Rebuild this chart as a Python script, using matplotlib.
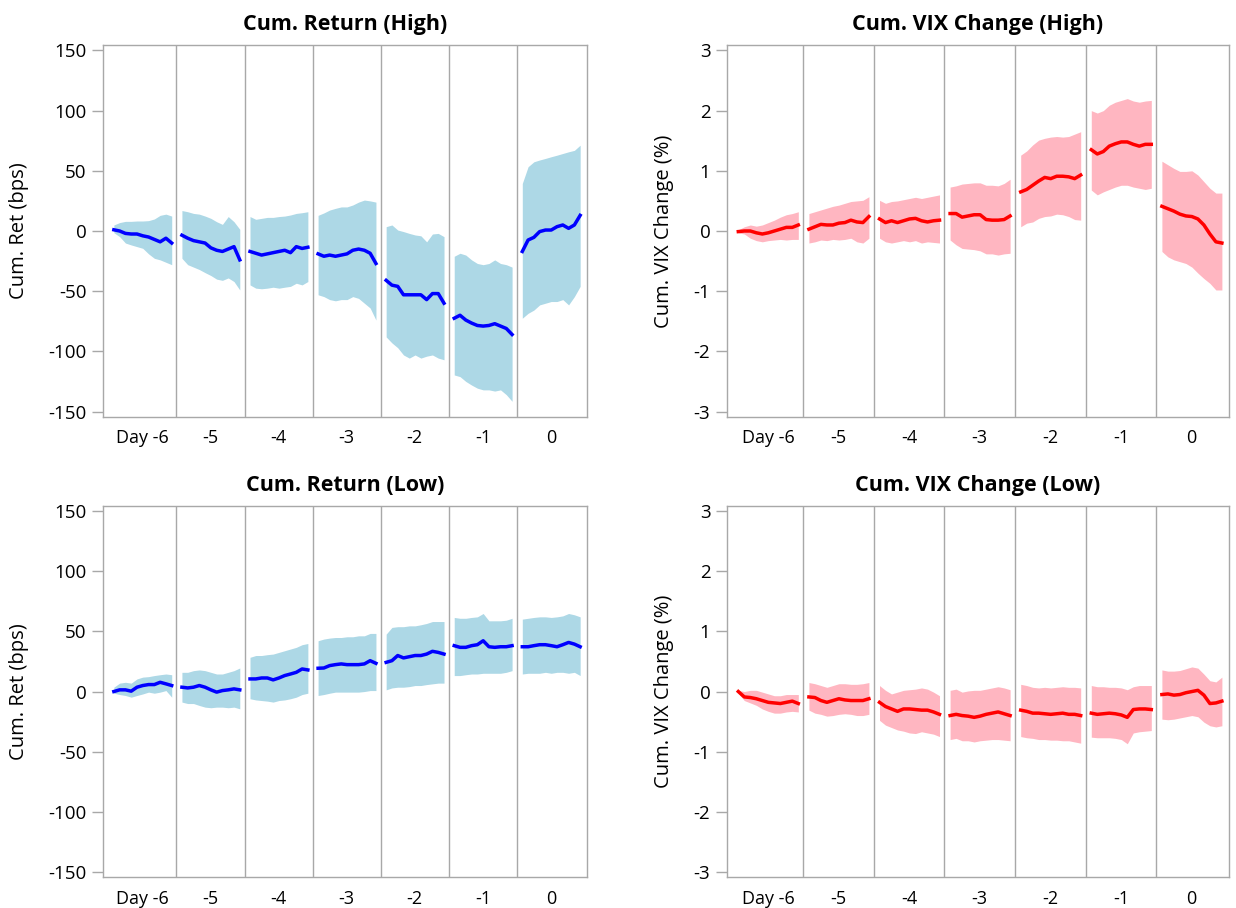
import matplotlib.pyplot as plt
import numpy as np

plt.rcParams['font.family'] = ['Open Sans', 'DejaVu Sans']

days = ['Day -6', '-5', '-4', '-3', '-2', '-1', '0']
# where the readings sit inside each day column
intraday = [0.08, 0.165, 0.25, 0.335, 0.42, 0.505, 0.59, 0.675, 0.76, 0.845, 0.93]

# ---- Cum. Return (High), bps ----
ret_high_mean = [
    [1, 0, -2, -2.5, -2.5, -4, -5, -7, -9, -6, -10],
    [-3.5, -6, -8, -9, -10, -14, -16, -17, -15, -13, -24],
    [-17, -18.5, -20, -19, -18, -17, -16, -18, -13, -14.5, -13.5],
    [-19, -21, -20, -21, -20, -19, -16, -15, -16, -18.5, -27],
    [-41, -45, -46, -53, -53, -53, -53, -57, -52, -52, -60],
    [-72.5, -70, -74, -76.5, -78.5, -79, -78.5, -77, -79, -81, -86],
    [-17, -7.5, -5.3, -0.5, 0.8, 0.8, 3.6, 5, 2.2, 5, 13],
]
ret_high_upper = [
    [5, 7, 8, 8, 8.3, 8.3, 8.6, 10, 13, 14, 12.4],
    [17, 16, 14.6, 14, 12.4, 10.5, 7.7, 5.5, 12, 7.7, 1.4],
    [12, 9.7, 10.5, 11.3, 11.3, 12, 12.4, 13.3, 14.6, 15.2, 16],
    [13, 15, 17.4, 18.8, 20, 20, 21.6, 24, 25.7, 25, 24],
    [3.6, 5, 0.8, -0.5, -2, -3.3, -4, -9, -2.5, -2, -4.7],
    [-21, -18.5, -20, -24, -27, -28, -27, -24, -27, -28, -30],
    [39.5, 53.4, 57.5, 59, 60.3, 61.7, 63, 64.4, 65.8, 67, 71.3],
]
ret_high_lower = [
    [-1.4, -4.7, -10, -11.6, -13, -14.4, -19, -22.7, -24, -26, -28],
    [-22.7, -28, -30, -32, -34.6, -37, -40, -41, -39, -42, -49],
    [-44.8, -47.5, -48, -47.5, -46.7, -47.5, -46.7, -46, -43.4, -44.8, -42],
    [-53, -54.5, -57, -58, -57, -57, -54.5, -56, -60, -64, -74],
    [-88, -93, -97, -103, -105.6, -103, -105.6, -104, -103, -105.6, -107],
    [-119.6, -121, -125, -128, -130.6, -132, -132, -133, -132, -136, -141.5],
    [-72.5, -68.4, -65.7, -61.4, -60, -58.6, -58.6, -57, -61.4, -54.5, -46],
]

# ---- Cum. VIX Change (High), % ----
vix_high_mean = [
    [-0.01, 0.0, 0.0, -0.03, -0.05, -0.03, 0.0, 0.03, 0.06, 0.06, 0.1],
    [0.03, 0.07, 0.11, 0.1, 0.1, 0.13, 0.14, 0.18, 0.15, 0.14, 0.24],
    [0.2, 0.14, 0.17, 0.14, 0.17, 0.2, 0.21, 0.17, 0.15, 0.17, 0.18],
    [0.29, 0.29, 0.23, 0.25, 0.27, 0.27, 0.19, 0.18, 0.18, 0.19, 0.25],
    [0.65, 0.69, 0.76, 0.83, 0.89, 0.87, 0.91, 0.91, 0.9, 0.87, 0.93],
    [1.35, 1.28, 1.32, 1.41, 1.45, 1.48, 1.48, 1.44, 1.41, 1.44, 1.44],
    [0.41, 0.37, 0.33, 0.28, 0.25, 0.24, 0.2, 0.1, -0.05, -0.18, -0.2],
]
vix_high_upper = [
    [0.02, 0.07, 0.1, 0.08, 0.1, 0.14, 0.18, 0.23, 0.27, 0.29, 0.32],
    [0.29, 0.32, 0.35, 0.38, 0.41, 0.43, 0.46, 0.49, 0.5, 0.51, 0.57],
    [0.51, 0.46, 0.49, 0.5, 0.52, 0.54, 0.56, 0.54, 0.56, 0.58, 0.6],
    [0.73, 0.75, 0.78, 0.79, 0.8, 0.8, 0.76, 0.76, 0.75, 0.79, 0.86],
    [1.26, 1.33, 1.43, 1.51, 1.54, 1.56, 1.57, 1.56, 1.57, 1.61, 1.65],
    [2.0, 1.96, 2.0, 2.09, 2.14, 2.17, 2.2, 2.16, 2.14, 2.16, 2.17],
    [1.16, 1.1, 1.04, 0.99, 0.99, 1.0, 0.93, 0.82, 0.71, 0.63, 0.63],
]
vix_high_lower = [
    [-0.03, -0.05, -0.12, -0.16, -0.18, -0.16, -0.15, -0.14, -0.15, -0.14, -0.14],
    [-0.2, -0.18, -0.15, -0.16, -0.14, -0.15, -0.14, -0.12, -0.18, -0.2, -0.12],
    [-0.12, -0.18, -0.2, -0.18, -0.16, -0.18, -0.16, -0.2, -0.18, -0.19, -0.2],
    [-0.15, -0.23, -0.29, -0.3, -0.31, -0.33, -0.38, -0.38, -0.4, -0.38, -0.37],
    [0.07, 0.13, 0.15, 0.21, 0.24, 0.25, 0.28, 0.27, 0.24, 0.19, 0.18],
    [0.68, 0.6, 0.65, 0.69, 0.73, 0.76, 0.76, 0.73, 0.71, 0.69, 0.71],
    [-0.34, -0.43, -0.48, -0.51, -0.54, -0.6, -0.7, -0.79, -0.87, -0.98, -0.98],
]

# ---- Cum. Return (Low), bps ----
ret_low_mean = [
    [0, 1.4, 1.4, 0.3, 3.6, 5, 5.8, 5.8, 7.7, 6.4, 5],
    [3.6, 3, 3.6, 5, 3.6, 1.4, -0.5, 0.8, 1.4, 2.2, 1.4],
    [10.5, 10.5, 11.3, 11.3, 9.7, 11.3, 13.3, 14.6, 16, 18.8, 18],
    [19.4, 19.6, 21.6, 22.4, 23, 22.4, 22.4, 22.4, 23, 25.7, 23.5],
    [24.3, 25.7, 30, 28, 29, 30, 30, 31.2, 33.5, 32.6, 31.2],
    [38.2, 36.8, 36.8, 38.2, 39, 42.3, 37.3, 36.8, 37.3, 37.3, 38.2],
    [37.3, 37.3, 38.2, 39, 39, 38.2, 37.3, 39, 40.9, 39.5, 37.3],
]
ret_low_upper = [
    [3.6, 7, 7.7, 7, 10.5, 12, 12.4, 13.3, 14, 14.6, 14],
    [16, 16, 17.4, 18, 17.4, 16, 14.6, 14.6, 16, 17.4, 19.6],
    [28.5, 30, 30, 30.7, 31.2, 32.6, 34, 35.4, 36.8, 39, 40],
    [42.3, 43.7, 44.5, 45, 45, 45.6, 45.6, 46.4, 46.4, 48.4, 48.4],
    [47.8, 53.4, 54, 54, 54.7, 54.7, 55.6, 56.7, 58.3, 58.3, 58.3],
    [61.7, 61, 61, 61.7, 62.2, 65, 58.9, 58.9, 58.9, 59.4, 61],
    [60.3, 61, 61.7, 62.2, 62.2, 61.7, 62.2, 63, 65, 63.9, 62.2],
]
ret_low_lower = [
    [-1.4, -2.5, -3.3, -4.7, -3.3, -2, -0.5, -1.4, -0.5, 0.8, -4.7],
    [-8.8, -10, -10, -11.6, -13, -13.5, -13, -13, -13.5, -13, -14.4],
    [-6, -7, -7.5, -8, -8.8, -7.5, -7, -6, -4.7, -2.5, -1.4],
    [-3.3, -2.5, -1.4, -0.5, -0.5, -0.5, -0.5, -0.5, 0, 0.8, 0.8],
    [1.4, 3, 3.6, 3.6, 4.1, 5, 5, 5.8, 6.4, 7, 7],
    [13.3, 13.3, 14, 14.6, 14.6, 15.2, 15.2, 15.2, 15.2, 16, 17.4],
    [14.6, 15.2, 15.2, 15.2, 16, 15.2, 16, 16, 15.2, 16, 13.3],
]

# ---- Cum. VIX Change (Low), % ----
vix_low_mean = [
    [0, -0.09, -0.1, -0.12, -0.15, -0.18, -0.19, -0.2, -0.18, -0.16, -0.2],
    [-0.09, -0.1, -0.15, -0.18, -0.15, -0.12, -0.14, -0.15, -0.15, -0.15, -0.12],
    [-0.18, -0.25, -0.29, -0.33, -0.29, -0.29, -0.3, -0.31, -0.31, -0.34, -0.38],
    [-0.4, -0.38, -0.4, -0.41, -0.43, -0.41, -0.38, -0.36, -0.34, -0.37, -0.4],
    [-0.31, -0.33, -0.36, -0.36, -0.37, -0.38, -0.37, -0.36, -0.38, -0.38, -0.4],
    [-0.36, -0.38, -0.37, -0.36, -0.37, -0.39, -0.43, -0.3, -0.29, -0.29, -0.3],
    [-0.05, -0.04, -0.06, -0.05, -0.02, 0.0, 0.02, -0.06, -0.2, -0.19, -0.16],
]
vix_low_upper = [
    [0.02, 0.0, 0.02, 0.02, -0.01, -0.04, -0.07, -0.07, -0.05, -0.05, -0.05],
    [0.15, 0.13, 0.1, 0.07, 0.1, 0.13, 0.13, 0.12, 0.12, 0.13, 0.15],
    [0.1, 0.02, -0.04, -0.01, 0.02, 0.03, 0.04, 0.06, 0.04, -0.01, -0.07],
    [0.02, 0.04, -0.01, 0.01, 0.02, 0.02, 0.04, 0.06, 0.08, 0.06, 0.03],
    [0.12, 0.1, 0.07, 0.06, 0.07, 0.06, 0.07, 0.08, 0.07, 0.07, 0.06],
    [0.1, 0.08, 0.08, 0.07, 0.07, 0.06, 0.03, 0.08, 0.1, 0.1, 0.1],
    [0.36, 0.34, 0.34, 0.35, 0.38, 0.41, 0.39, 0.29, 0.18, 0.16, 0.24],
]
vix_low_lower = [
    [-0.03, -0.15, -0.19, -0.23, -0.29, -0.33, -0.36, -0.36, -0.34, -0.33, -0.34],
    [-0.31, -0.36, -0.38, -0.41, -0.4, -0.38, -0.37, -0.38, -0.4, -0.4, -0.38],
    [-0.48, -0.56, -0.6, -0.64, -0.66, -0.69, -0.7, -0.67, -0.69, -0.71, -0.75],
    [-0.8, -0.78, -0.82, -0.82, -0.84, -0.82, -0.81, -0.8, -0.8, -0.81, -0.82],
    [-0.75, -0.77, -0.78, -0.8, -0.8, -0.81, -0.81, -0.82, -0.82, -0.84, -0.86],
    [-0.76, -0.77, -0.77, -0.77, -0.78, -0.8, -0.87, -0.69, -0.67, -0.66, -0.65],
    [-0.46, -0.47, -0.46, -0.44, -0.42, -0.4, -0.42, -0.51, -0.57, -0.59, -0.57],
]

ret_ticks = [-150, -100, -50, 0, 50, 100, 150]
vix_ticks = [-3, -2, -1, 0, 1, 2, 3]

FRAME = '#a8a8a8'


def draw_panel(ax, mean, upper, lower, line_color, band_color, title, ylabel, yticks):
    for d in range(len(days)):
        x = d + np.array(intraday)
        ax.fill_between(x, lower[d], upper[d], color=band_color, linewidth=0, zorder=1)
        ax.plot(x, mean[d], color=line_color, linewidth=2.5, zorder=3)
    for d in range(1, len(days)):
        ax.axvline(d, color=FRAME, linewidth=1.0, zorder=2)

    ax.set_xlim(-0.08, 7.03)
    pad = (yticks[-1] - yticks[0]) * 0.015
    ax.set_ylim(yticks[0] - pad, yticks[-1] + pad)
    ax.set_yticks(yticks)
    ax.set_yticklabels([str(t) for t in yticks])
    ax.set_xticks(np.arange(len(days)) + 0.5)
    ax.set_xticklabels(days)
    ax.tick_params(axis='x', length=0, pad=9, labelsize=13)
    ax.tick_params(axis='y', length=8, width=1, color=FRAME, pad=4, labelsize=13.5)
    for sp in ax.spines.values():
        sp.set_color(FRAME)
        sp.set_linewidth(1.0)
    ax.set_title(title, fontsize=15.5, fontweight='bold', pad=11)
    ax.set_ylabel(ylabel, fontsize=14.5, labelpad=14)


fig = plt.figure(figsize=(12.36, 9.08), dpi=100)

ax_tl = fig.add_axes([0.0833, 0.5408, 0.3916, 0.4096])
ax_tr = fig.add_axes([0.5882, 0.5408, 0.4061, 0.4096])
ax_bl = fig.add_axes([0.0833, 0.0341, 0.3916, 0.4086])
ax_br = fig.add_axes([0.5882, 0.0341, 0.4061, 0.4086])

draw_panel(ax_tl, ret_high_mean, ret_high_upper, ret_high_lower, '#0000ff', '#add8e6',
           'Cum. Return (High)', 'Cum. Ret (bps)', ret_ticks)
draw_panel(ax_tr, vix_high_mean, vix_high_upper, vix_high_lower, '#ff0000', '#ffb6c1',
           'Cum. VIX Change (High)', 'Cum. VIX Change (%)', vix_ticks)
draw_panel(ax_bl, ret_low_mean, ret_low_upper, ret_low_lower, '#0000ff', '#add8e6',
           'Cum. Return (Low)', 'Cum. Ret (bps)', ret_ticks)
draw_panel(ax_br, vix_low_mean, vix_low_upper, vix_low_lower, '#ff0000', '#ffb6c1',
           'Cum. VIX Change (Low)', 'Cum. VIX Change (%)', vix_ticks)

fig.savefig('out.png', dpi=100)
